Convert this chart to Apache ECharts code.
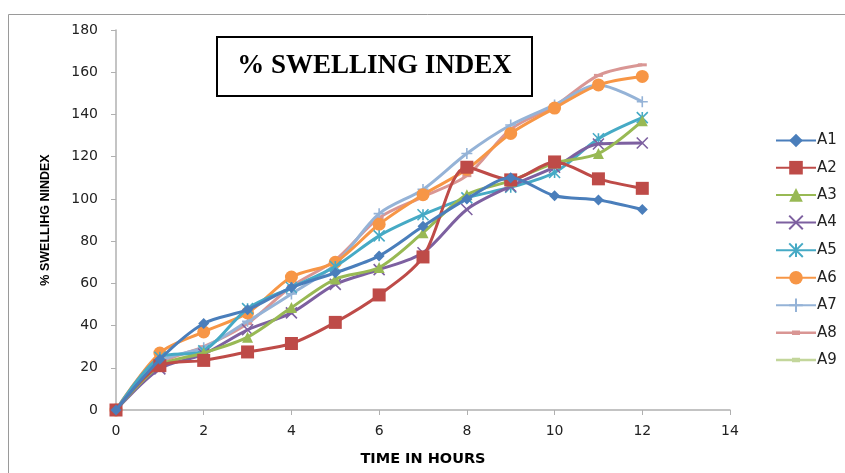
<!DOCTYPE html>
<html>
<head>
<meta charset="utf-8">
<script src="https://cdn.jsdelivr.net/npm/echarts@6/dist/echarts.min.js"></script>
<style>
html,body{margin:0;padding:0;background:#fff;}
#chart{width:845px;height:473px;}
</style>
</head>
<body>
<div id="chart"></div>
<script>
var hours = [0,1,2,3,4,5,6,7,8,9,10,11,12];
var seriesNames = ['A1','A2','A3','A4','A5','A6','A7','A8','A9'];
var A1 = [0, 24, 41, 47.5, 58, 65, 73, 87, 100, 110, 101.5, 99.5, 95];
var A2 = [0, 21, 23.5, 27.5, 31.5, 41.5, 54.5, 72.5, 115, 109, 117.5, 109.5, 105];
var A3 = [0, 21, 27, 34.5, 48.5, 62, 67.5, 84, 102, 108.5, 117, 121.5, 137];
var A4 = [0, 19.5, 26.5, 38, 46, 59.5, 66.5, 74.5, 95, 106, 115, 126, 126.5];
var A5 = [0, 25, 28, 48, 58, 68, 82.5, 92.5, 100.5, 105.5, 112.5, 128.5, 138.5];
var A6 = [0, 27, 37, 46, 63, 70, 88, 102, 114, 131, 143, 154, 158];
var A7 = [0, 23, 29.5, 42, 55, 69, 93, 104.5, 121.5, 135, 144.5, 154, 146];
var A8 = [0, 22, 30, 41, 58.5, 71, 91, 101, 111, 133, 144, 158.5, 163.5];
var A9 = [0];
var xTicks = [0,2,4,6,8,10,12,14];
var yTicks = [0,20,40,60,80,100,120,140,160,180];
var values = [A1,A2,A3,A4,A5,A6,A7,A8,A9];

var colors = ['#4A7EBB','#BE4B48','#98B954','#7D60A0','#46AAC5','#F79646','#95B3D7','#D99694','#C3D69B'];
var symbols = [
  'diamond','rect','triangle',
  'path://M0 0 L10 10 M10 0 L0 10',
  'path://M0 0 L10 10 M10 0 L0 10 M5 0 L5 10',
  'circle',
  'path://M0 5 L10 5 M5 0 L5 10',
  'rect','rect'
];
var sizes = [11, 13, 11, 11, 11, 13, 11, [9,3], [9,3]];
var strokeSym = [false,false,false,true,true,false,true,false,false];
var dashIcon = 'path://M0 7.5 L16 7.5 L16 6.5 L24 6.5 L24 7.5 L40 7.5 L40 10 L24 10 L24 11 L16 11 L16 10 L0 10 Z';

var series = seriesNames.map(function(n, i){
  var d = values[i].map(function(v, j){ return [hours[j], v]; });
  return {
    name: n, type: 'line', data: d, smooth: 0.3,
    symbol: symbols[i], symbolSize: sizes[i], showSymbol: true,
    lineStyle: {color: colors[i], width: 3},
    itemStyle: strokeSym[i] ? {color: colors[i], borderColor: colors[i], borderWidth: 1.6} : {color: colors[i]},
    z: 10 - i
  };
});

var legendData = seriesNames.map(function(n, i){
  return i >= 7 ? {name: n, icon: dashIcon} : {name: n};
});

var chart = echarts.init(document.getElementById('chart'));
chart.setOption({
  animation: false,
  backgroundColor: '#fff',
  grid: {left: 116, right: 115, top: 30, bottom: 63},
  graphic: [
    {type:'rect', shape:{x:8.5, y:14.5, width:900, height:500}, style:{fill:'none', stroke:'#9a9a9a', lineWidth:1}, z:-1},
    {type:'rect', shape:{x:217, y:37, width:315, height:59}, style:{fill:'#fff', stroke:'#000', lineWidth:2}, z:100},
    {type:'text', x:374.5, y:66.5, style:{text:'% SWELLING INDEX', font:'bold 27px "Liberation Serif"', fill:'#000', align:'center', verticalAlign:'middle'}, z:101}
  ],
  xAxis: {
    type: 'value', min: 0, max: 14, interval: 2,
    name: 'TIME IN HOURS', nameLocation: 'middle', nameGap: 42,
    nameTextStyle: {fontFamily:'DejaVu Sans', fontWeight:'bold', fontSize:14.5, color:'#000'},
    axisLine: {lineStyle:{color:'#B0B0B0', width:1.5}},
    axisTick: {show:true, length:5, lineStyle:{color:'#B0B0B0'}},
    axisLabel: {fontFamily:'DejaVu Sans', fontSize:14, color:'#222', margin:14},
    splitLine: {show:false}
  },
  yAxis: {
    type: 'value', min: 0, max: 180, interval: 20,
    name: '% SWELLIHG NINDEX', nameLocation: 'middle', nameGap: 64, nameRotate: 90,
    nameTextStyle: {fontFamily:'Liberation Sans', fontWeight:'bold', fontSize:12.5, color:'#000'},
    axisLine: {show:true, lineStyle:{color:'#B0B0B0', width:1.5}},
    axisTick: {show:true, length:5, lineStyle:{color:'#B0B0B0'}},
    axisLabel: {fontFamily:'DejaVu Sans', fontSize:14, color:'#222', margin:18},
    splitLine: {show:false}
  },
  legend: {
    orient: 'vertical', left: 770, top: 128, itemGap: 12.2,
    itemWidth: 40, itemHeight: 17,
    textStyle: {fontFamily:'DejaVu Sans', fontSize:15, color:'#222', padding:[0,0,0,-4]},
    data: legendData
  },
  series: series
});
</script>
</body>
</html>
